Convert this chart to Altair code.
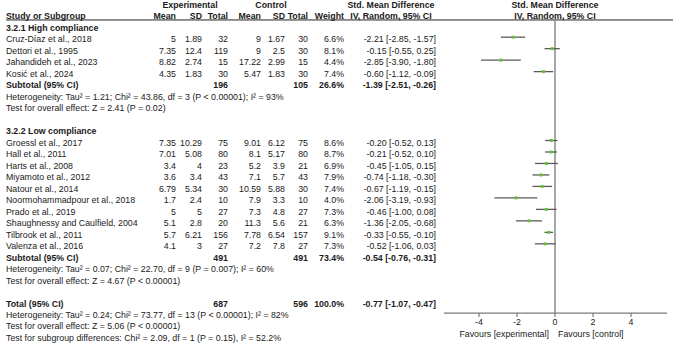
import altair as alt
import pandas as pd

# ---------------- data ----------------
high_names = ["Cruz-Díaz et al., 2018", "Dettori et al., 1995",
              "Jahandideh et al., 2023", "Kosić et al., 2024"]
high_exp_mean = [5, 7.35, 8.82, 4.35]
high_exp_sd = [1.89, 12.4, 2.74, 1.83]
high_exp_n = [32, 119, 15, 30]
high_ctl_mean = [9, 9, 17.22, 5.47]
high_ctl_sd = [1.67, 2.5, 2.99, 1.83]
high_ctl_n = [30, 30, 15, 30]
high_weight = [6.6, 8.1, 4.4, 7.4]
high_smd = [-2.21, -0.15, -2.85, -0.60]
high_lo = [-2.85, -0.55, -3.90, -1.12]
high_hi = [-1.57, 0.25, -1.80, -0.09]

low_names = ["Groessl et al., 2017", "Hall et al., 2011", "Harts et al., 2008",
             "Miyamoto et al., 2012", "Natour et al., 2014",
             "Noormohammadpour et al., 2018", "Prado et al., 2019",
             "Shaughnessy and Caulfield, 2004", "Tilbrook et al., 2011",
             "Valenza et al., 2016"]
low_exp_mean = [7.35, 7.01, 3.4, 3.6, 6.79, 1.7, 5, 5.1, 5.7, 4.1]
low_exp_sd = [10.29, 5.08, 4, 3.4, 5.34, 2.4, 5, 2.8, 6.21, 3]
low_exp_n = [75, 80, 23, 43, 30, 10, 27, 20, 156, 27]
low_ctl_mean = [9.01, 8.1, 5.2, 7.1, 10.59, 7.9, 7.3, 11.3, 7.78, 7.2]
low_ctl_sd = [6.12, 5.17, 3.9, 5.7, 5.88, 3.3, 4.8, 5.6, 6.54, 7.8]
low_ctl_n = [75, 80, 21, 43, 30, 10, 27, 21, 157, 27]
low_weight = [8.6, 8.7, 6.9, 7.9, 7.4, 4.0, 7.3, 6.3, 9.1, 7.3]
low_smd = [-0.20, -0.21, -0.45, -0.74, -0.67, -2.06, -0.46, -1.36, -0.33, -0.52]
low_lo = [-0.52, -0.52, -1.05, -1.18, -1.19, -3.19, -1.00, -2.05, -0.55, -1.06]
low_hi = [0.13, 0.10, 0.15, -0.30, -0.15, -0.93, 0.08, -0.68, -0.10, 0.03]

pooled_labels = ["Subtotal (95% CI)", "Subtotal (95% CI)", "Total (95% CI)"]
pooled_exp_n = [196, 491, 687]
pooled_ctl_n = [105, 491, 596]
pooled_weight = [26.6, 73.4, 100.0]
pooled_smd = [-1.39, -0.54, -0.77]
pooled_lo = [-2.51, -0.76, -1.07]
pooled_hi = [-0.26, -0.31, -0.47]

group_titles = ["3.2.1 High compliance", "3.2.2 Low compliance"]
notes = [
    "Heterogeneity: Tau² = 1.21; Chi² = 43.86, df = 3 (P < 0.00001); I² = 93%",
    "Test for overall effect: Z = 2.41 (P = 0.02)",
    "Heterogeneity: Tau² = 0.07; Chi² = 22.70, df = 9 (P = 0.007); I² = 60%",
    "Test for overall effect: Z = 4.67 (P < 0.00001)",
    "Heterogeneity: Tau² = 0.24; Chi² = 73.77, df = 13 (P < 0.00001); I² = 82%",
    "Test for overall effect: Z = 5.06 (P < 0.00001)",
    "Test for subgroup differences: Chi² = 2.09, df = 1 (P = 0.15), I² = 52.2%",
]
axis_ticks = [-4, -2, 0, 2, 4]
axis_span = [-5.85, 5.9]
favours = ["Favours [experimental]", "Favours [control]"]

# ---------------- row layout (row index, top to bottom) ----------------
study_rows = [1, 2, 3, 4] + list(range(10, 20))
pooled_rows = [5, 20, 24]
title_rows = [0, 9]
note_rows = [6, 7, 21, 22, 25, 26, 27]
HEAD1, HEAD2, RULE_ROW = -2.0, -1.05, -0.70
AXIS_ROW, TICK_END, TICKLAB_ROW, FAV_ROW = 24.83, 25.18, 25.62, 26.62
MARK_SHIFT = 0.2   # forest marks sit slightly above the text midline
DIAMOND_HALF = 0.42

fmt = lambda v: f"{v:g}"

studies = pd.DataFrame({
    "k": study_rows,
    "name": high_names + low_names,
    "em": [fmt(v) for v in high_exp_mean + low_exp_mean],
    "esd": [fmt(v) for v in high_exp_sd + low_exp_sd],
    "en": [str(v) for v in high_exp_n + low_exp_n],
    "cm": [fmt(v) for v in high_ctl_mean + low_ctl_mean],
    "csd": [fmt(v) for v in high_ctl_sd + low_ctl_sd],
    "cn": [str(v) for v in high_ctl_n + low_ctl_n],
    "w": [f"{v:.1f}%" for v in high_weight + low_weight],
    "smd": high_smd + low_smd,
    "lo": high_lo + low_lo,
    "hi": high_hi + low_hi,
})
studies["ci"] = [f"{s:.2f} [{l:.2f}, {h:.2f}]"
                 for s, l, h in zip(studies.smd, studies.lo, studies.hi)]
studies["km"] = studies.k - MARK_SHIFT

pooled = pd.DataFrame({
    "k": pooled_rows,
    "name": pooled_labels,
    "en": [str(v) for v in pooled_exp_n],
    "cn": [str(v) for v in pooled_ctl_n],
    "w": [f"{v:.1f}%" for v in pooled_weight],
    "smd": pooled_smd, "lo": pooled_lo, "hi": pooled_hi,
})
pooled["ci"] = [f"{s:.2f} [{l:.2f}, {h:.2f}]"
                for s, l, h in zip(pooled.smd, pooled.lo, pooled.hi)]

titles = pd.DataFrame({"k": title_rows, "name": group_titles})
notes_df = pd.DataFrame({"k": note_rows, "name": notes})

# diamond outlines for pooled estimates
dia = []
for i, r in pooled.iterrows():
    c = r.k - MARK_SHIFT
    dia += [
        {"g": i, "x": r.lo, "y": c, "y2": c},
        {"g": i, "x": r.smd, "y": c - DIAMOND_HALF, "y2": c + DIAMOND_HALF},
        {"g": i, "x": r.hi, "y": c, "y2": c},
    ]
diamonds = pd.DataFrame(dia)

# ---------------- scales ----------------
X_ZERO_PX, PX_PER_UNIT, W, H = 555, 19, 675, 344
ROW0_PX, ROW_STEP = 28, 11.48
xscale = alt.Scale(domain=[-X_ZERO_PX / PX_PER_UNIT, (W - X_ZERO_PX) / PX_PER_UNIT],
                   nice=False, zero=False)
yscale = alt.Scale(domain=[-ROW0_PX / ROW_STEP, (H - ROW0_PX) / ROW_STEP],
                   reverse=True, nice=False, zero=False)

FONT = "Liberation Sans"
FS = 8.8
INK = "#1a1a1a"

# table columns: (field, right edge in px)
EXP_COLS = [("em", 176), ("esd", 202), ("en", 228)]
CTL_COLS = [("cm", 261), ("csd", 285), ("cn", 308)]
W_PX, CI_PX, CI_HEAD_PX = 344, 436, 391


def Y(field="k"):
    return alt.Y(f"{field}:Q", scale=yscale, axis=None)


def col_text(df, field, px, align="right", bold=False):
    return alt.Chart(df).mark_text(
        align=align, baseline="middle", font=FONT, fontSize=FS,
        fontWeight="bold" if bold else "normal", color=INK,
    ).encode(x=alt.value(px), y=Y(), text=f"{field}:N")


layers = []

# ---------------- header ----------------
head1 = pd.DataFrame({"k": [HEAD1] * 4,
                      "t": ["Experimental", "Control", "Std. Mean Difference",
                            "Std. Mean Difference"],
                      "c": ["e", "c", "t", "f"]})
for code, px in [("e", 190), ("c", 271), ("t", CI_HEAD_PX), ("f", X_ZERO_PX)]:
    layers.append(col_text(head1[head1.c == code], "t", px, "center", True))

head2_cols = [("Study or Subgroup", 6, "left"),
              ("Mean", EXP_COLS[0][1], "right"), ("SD", EXP_COLS[1][1], "right"),
              ("Total", EXP_COLS[2][1], "right"),
              ("Mean", CTL_COLS[0][1], "right"), ("SD", CTL_COLS[1][1], "right"),
              ("Total", CTL_COLS[2][1], "right"), ("Weight", W_PX, "right"),
              ("IV, Random, 95% CI", CI_HEAD_PX, "center"),
              ("IV, Random, 95% CI", X_ZERO_PX, "center")]
for t, px, al in head2_cols:
    layers.append(col_text(pd.DataFrame({"k": [HEAD2], "t": [t]}), "t", px, al, True))

layers.append(
    alt.Chart(pd.DataFrame({"k": [RULE_ROW]})).mark_rule(color="#222", strokeWidth=1)
    .encode(x=alt.value(6), x2=alt.value(673), y=Y())
)

# ---------------- table body ----------------
layers.append(col_text(titles, "name", 6, "left", True))
layers.append(col_text(studies, "name", 6, "left"))
layers.append(col_text(notes_df, "name", 6, "left"))
for field, px in EXP_COLS + CTL_COLS + [("w", W_PX), ("ci", CI_PX)]:
    layers.append(col_text(studies, field, px))
layers.append(col_text(pooled, "name", 6, "left", True))
for field, px in [EXP_COLS[2], CTL_COLS[2], ("w", W_PX), ("ci", CI_PX)]:
    layers.append(col_text(pooled, field, px, "right", True))

# ---------------- forest panel ----------------
layers.append(
    alt.Chart(pd.DataFrame({"x": [0], "y": [RULE_ROW], "y2": [AXIS_ROW]}))
    .mark_rule(color="#8a8a8a", strokeWidth=1.5)
    .encode(x=alt.X("x:Q", scale=xscale, axis=None), y=Y("y"), y2="y2:Q")
)
layers.append(
    alt.Chart(studies).mark_rule(color="#5a5a5a", strokeWidth=1.3)
    .encode(x=alt.X("lo:Q", scale=xscale, axis=None), x2="hi:Q", y=Y("km"))
)
layers.append(
    alt.Chart(studies).mark_square(color="#66c23a", opacity=1, size=9)
    .encode(x=alt.X("smd:Q", scale=xscale, axis=None), y=Y("km"))
)
layers.append(
    alt.Chart(diamonds).mark_area(color="black", opacity=1, interpolate="linear")
    .encode(x=alt.X("x:Q", scale=xscale, axis=None), y=Y("y"), y2="y2:Q",
            detail="g:N", order="x:Q")
)

# axis drawn on the effect scale
layers.append(
    alt.Chart(pd.DataFrame({"a": [axis_span[0]], "b": [axis_span[1]], "y": [AXIS_ROW]}))
    .mark_rule(color="#7a7a7a", strokeWidth=1.3)
    .encode(x=alt.X("a:Q", scale=xscale, axis=None), x2="b:Q", y=Y("y"))
)
ticks = pd.DataFrame({"v": axis_ticks, "y": AXIS_ROW, "y2": TICK_END,
                      "yl": TICKLAB_ROW, "lab": [str(v) for v in axis_ticks]})
layers.append(
    alt.Chart(ticks).mark_rule(color="#7a7a7a", strokeWidth=1.2)
    .encode(x=alt.X("v:Q", scale=xscale, axis=None), y=Y("y"), y2="y2:Q")
)
layers.append(
    alt.Chart(ticks).mark_text(font=FONT, fontSize=FS, color=INK, baseline="middle")
    .encode(x=alt.X("v:Q", scale=xscale, axis=None), y=Y("yl"), text="lab:N")
)
fav = pd.DataFrame({"x": [-0.32, 0.16], "y": [FAV_ROW] * 2, "t": favours,
                    "side": ["l", "r"]})
layers.append(
    alt.Chart(fav[fav.side == "l"]).mark_text(font=FONT, fontSize=FS, color=INK,
                                              align="right", baseline="middle")
    .encode(x=alt.X("x:Q", scale=xscale, axis=None), y=Y("y"), text="t:N")
)
layers.append(
    alt.Chart(fav[fav.side == "r"]).mark_text(font=FONT, fontSize=FS, color=INK,
                                              align="left", baseline="middle")
    .encode(x=alt.X("x:Q", scale=xscale, axis=None), y=Y("y"), text="t:N")
)

chart = (
    alt.layer(*layers)
    .properties(width=W, height=H, padding=0, autosize=alt.AutoSizeParams(type="none"),
                background="white")
    .configure_view(stroke=None)
)

chart.save("out.html", embed_options={"renderer": "svg", "actions": False})
